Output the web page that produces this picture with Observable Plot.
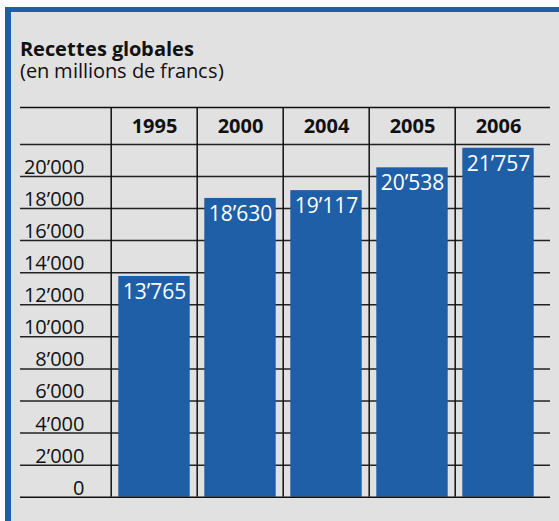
<!DOCTYPE html>
<html>
<head>
<meta charset="utf-8">
<script src="https://cdn.jsdelivr.net/npm/d3@7"></script>
<script src="https://cdn.jsdelivr.net/npm/@observablehq/plot@0.6"></script>
<style>
  @font-face { font-family: "OSTight"; src: local("Open Sans"), local("OpenSans-Regular"), local("Open Sans Regular");
               font-weight: 400; ascent-override: 85%; descent-override: 22%; line-gap-override: 0%; }
  @font-face { font-family: "OSTight"; src: local("Open Sans Bold"), local("OpenSans-Bold");
               font-weight: 700; ascent-override: 85%; descent-override: 22%; line-gap-override: 0%; }
  body { margin: 0; background: #fff; overflow: hidden; font-family: "Open Sans", sans-serif; }
  #frame { position: absolute; left: 5px; top: 7px; width: 600px; height: 600px;
           background: #e1e1e1; border-top: 5px solid #1f5fa8; border-left: 6px solid #1f5fa8; }
  #title { padding: 26.5px 0 0 9px; height: 51.5px; color: #111; font-family: "OSTight", "Open Sans", sans-serif; }
  #title .t { font-weight: 700; font-size: 19.5px; line-height: 22px; }
  #title .s { font-weight: 400; font-size: 19.5px; line-height: 22px; }
</style>
</head>
<body>
<div id="frame">
  <div id="title">
    <div class="t">Recettes globales</div>
    <div class="s">(en millions de francs)</div>
  </div>
  <div id="chart"></div>
</div>
<script>
const years = ["1995", "2000", "2004", "2005", "2006"];
const values = [13765, 18630, 19117, 20538, 21757];
const tickValues = [0, 2000, 4000, 6000, 8000, 10000, 12000, 14000, 16000, 18000, 20000];
const gridValues = [2000, 4000, 6000, 8000, 10000, 12000, 14000, 16000, 18000, 20000, 22000];
const yMax = 24300;

const data = years.map((year, i) => ({year, value: values[i]}));
const fmt = d3.formatLocale({decimal: ".", thousands: "’", grouping: [3], currency: ["", ""]}).format(",");

const W = 548, H = 431;
const xRange = [98, 531];
const bw = (xRange[1] - xRange[0]) / years.length;
const blue = "#1f5fa8";

const chart = Plot.plot({
  width: W,
  height: H,
  marginLeft: 9,
  marginRight: 9,
  marginTop: 17,
  marginBottom: 24.3,
  style: {background: "transparent", fontFamily: "Open Sans", fontSize: "20px", color: "#111", overflow: "visible"},
  x: {type: "band", domain: years, range: xRange, padding: 0, axis: null},
  y: {domain: [0, yMax], axis: null},
  marks: [
    Plot.ruleY(gridValues, {stroke: "#222", strokeWidth: 1.5}),
    Plot.ruleY([yMax], {stroke: "#111", strokeWidth: 1.5}),
    Plot.ruleX(years, {x: d => d, dx: -bw / 2, y1: 0, y2: yMax, stroke: "#111", strokeWidth: 1.5}),
    Plot.barY(data, {x: "year", y: "value", fill: blue, insetLeft: 7.3, insetRight: 7.3}),
    Plot.ruleY([0], {stroke: "#111", strokeWidth: 1.5}),
    Plot.text(years, {x: d => d, text: d => d, frameAnchor: "top", dy: 19, lineAnchor: "middle", fontWeight: "bold", fontSize: 20, fill: "#111"}),
    Plot.text(tickValues, {y: d => d, text: d => fmt(d), frameAnchor: "left", dx: 64, textAnchor: "end", lineAnchor: "bottom", dy: -2.5, fontSize: 20, fill: "#111"}),
    Plot.text(data, {x: "year", y: "value", text: d => fmt(d.value), lineAnchor: "top", dy: 7.5, fill: "white", fontSize: 21})
  ]
});
document.getElementById("chart").appendChild(chart);
</script>
</body>
</html>
